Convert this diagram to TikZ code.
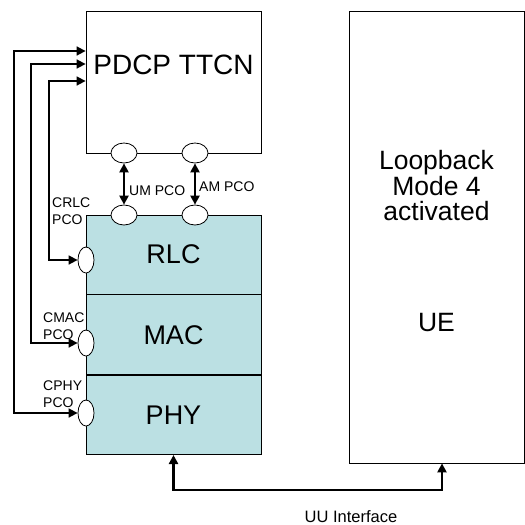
\documentclass[tikz,border=0pt]{standalone}
\usepackage{fontspec}
\setmainfont{Liberation Sans}
\usepackage{xcolor}
\usetikzlibrary{arrows.meta, positioning, calc, shapes.geometric}
\definecolor{layerteal}{RGB}{187, 224, 227}
\tikzset{
    % Plain entity box (TTCN, UE)
    entbox/.style={
        draw=black, line width=0.8pt,
        fill=white,
        minimum width=175pt,
        inner sep=0pt,
    },
    % Protocol layer block
    layerblock/.style={
        draw=black, line width=0.8pt,
        fill=layerteal,
        minimum width=175pt,
        minimum height=#1,
        inner sep=0pt,
        font=\fontsize{27}{32}\selectfont,
    },
    % Horizontal PCO (top/bottom edge)
    hpco/.style={
        ellipse, draw=black, line width=0.8pt,
        fill=white,
        minimum width=26pt, minimum height=20pt,
        inner sep=0pt,
    },
    % Vertical PCO (left edge)
    vpco/.style={
        ellipse, draw=black, line width=0.8pt,
        fill=white,
        minimum width=16pt, minimum height=26pt,
        inner sep=0pt,
    },
    % Control arrow (TTCN to layer PCO)
    ctrlarrow/.style={
        {Triangle[length=9pt, width=9pt]}-{Triangle[length=9pt, width=9pt]},
        line width=1.6pt,
    },
    % Data arrow (PCO to PCO, Uu)
    dataarrow/.style={
        {Triangle[length=9pt, width=9pt]}-{Triangle[length=9pt, width=9pt]},
        line width=2.4pt,
    },
    % Big label
    biglabel/.style={
        font=\fontsize{28}{33}\selectfont,
        inner sep=0pt,
    },
    % UE label
    uelabel/.style={
        font=\fontsize{26.5}{25.5}\selectfont,
        align=center,
        inner sep=0pt,
    },
    % PCO label
    pcolabel/.style={
        font=\fontsize{14}{17}\selectfont,
        align=left,
        inner sep=0pt,
        anchor=west,
    },
}
\begin{document}
\begin{tikzpicture}[x=1pt, y=-1pt]

\useasboundingbox (0,0) rectangle (525,525);

% =========================================================================
% TEST SYSTEM (left)
% =========================================================================

% --- PDCP TTCN ---
\node[entbox, minimum height=142pt] (ttcn) at (173.5,82) {};
\node[biglabel] (ttcnlbl) at (173.5,65) {PDCP TTCN};

% --- Layer stack ---
\node[layerblock=79pt] (rlc) at (173.5,254.5) {RLC};
\node[layerblock=80pt, below=0pt of rlc] (mac) {MAC};
\node[layerblock=79pt, below=0pt of mac] (phy) {PHY};

% =========================================================================
% UE (right)
% =========================================================================
\node[entbox, minimum height=452pt] (ue) at (436.5,237) {};
\node[uelabel] (loopback) at (436.5,186) {Loopback\\Mode 4\\activated};
\node[uelabel] (uelbl) at (436.5,323) {UE};

% =========================================================================
% PCOs
% =========================================================================
\node[hpco] (umtop) at (124,153) {};
\node[hpco] (amtop) at (195,153) {};
\node[hpco] (umbot) at (124,215) {};
\node[hpco] (ambot) at (195,215) {};

\node[vpco] (crlc) at (86,260) {};
\node[vpco] (cmac) at (86,343) {};
\node[vpco] (cphy) at (86,413) {};

% --- PCO labels ---
\node[pcolabel] (umlbl) at (129,191) {UM PCO};
\node[pcolabel] (amlbl) at (199,187) {AM PCO};
\node[pcolabel] (crlclbl) at (52,211.5) {CRLC\\PCO};
\node[pcolabel] (cmaclbl) at (43,326.5) {CMAC\\PCO};
\node[pcolabel] (cphylbl) at (43,394.5) {CPHY\\PCO};

% =========================================================================
% ARROWS — PDCP SAPs
% =========================================================================
\draw[dataarrow] (umtop.south) -- (umbot.north);
\draw[dataarrow] (amtop.south) -- (ambot.north);

% =========================================================================
% ARROWS — control ports
% =========================================================================
\coordinate (cphyturn) at (14,51);
\coordinate (cmacturn) at (31,64);
\coordinate (crlcturn) at (49,81);

\draw[ctrlarrow] (ttcn.west |- cphyturn) -- (cphyturn) |- (cphy.west);
\draw[ctrlarrow] (ttcn.west |- cmacturn) -- (cmacturn) |- (cmac.west);
\draw[ctrlarrow] (ttcn.west |- crlcturn) -- (crlcturn) |- (crlc.west);

% =========================================================================
% UU INTERFACE
% =========================================================================
\coordinate (uuturn) at (442,490);
\draw[dataarrow] (phy.south) |- (uuturn) -- (ue.south -| uuturn);
\node[font=\fontsize{16.5}{18}\selectfont, inner sep=0pt] (uulbl) at (351,517) {UU Interface};

\end{tikzpicture}
\end{document}
